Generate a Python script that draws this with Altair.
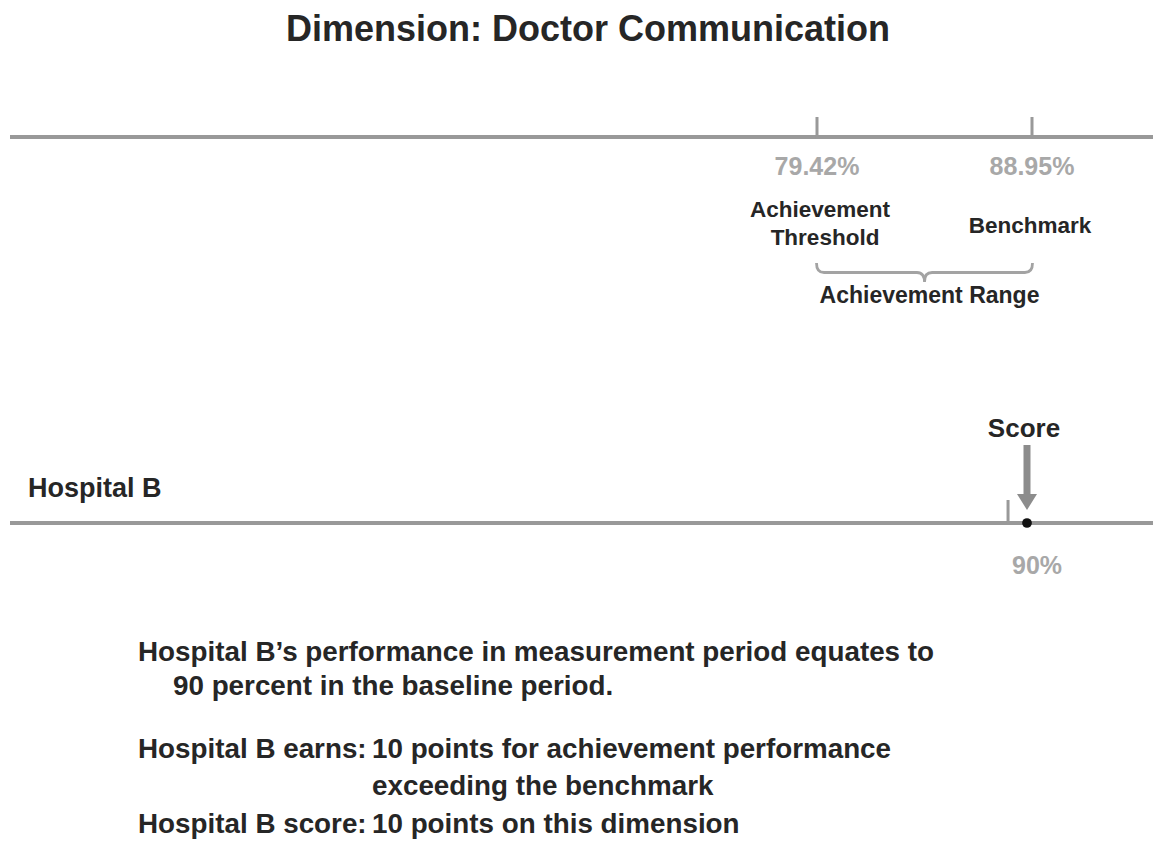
import altair as alt
import pandas as pd

# ---- data ----
top_names = ["Achievement Threshold", "Benchmark"]
top_values = [79.42, 88.95]
score_value = [90.0]
baseline_marker = [89.16]
title_text = "Dimension: Doctor Communication"
hospital = "Hospital B"
block_lines = [
    "Hospital B\u2019s performance in measurement period equates to",
    "90 percent in the baseline period.",
    "Hospital B earns:",
    "10 points for achievement performance",
    "exceeding the benchmark",
    "Hospital B score:",
    "10 points on this dimension",
]

FONT = "Liberation Sans"
DARK = "#262626"
GREY_TXT = "#a8a8a8"
LINE = "#999999"

top_df = pd.DataFrame({
    "name": top_names,
    "value": top_values,
    "label": [f"{v:.2f}%" for v in top_values],
})
mid_df = pd.DataFrame({"value": [sum(top_values) / 2], "label": ["Achievement Range"]})
score_df = pd.DataFrame({"value": score_value, "label": [f"{v:.0f}%" for v in score_value]})
marker_df = pd.DataFrame({"value": baseline_marker})

xs_top = alt.Scale(domain=[43.56, 94.668], range=[0, 1153], nice=False, zero=False)
xs_bot = alt.Scale(domain=[44.832, 95.94], range=[0, 1153], nice=False, zero=False)
X_top = alt.X("value:Q", scale=xs_top, axis=None)
X_bot = alt.X("value:Q", scale=xs_bot, axis=None)

# ---- top (measurement thresholds) ----
top_ticks = alt.Chart(top_df).mark_rule(color=LINE, strokeWidth=3).encode(
    x=X_top, y=alt.value(109), y2=alt.value(131))
top_pct = alt.Chart(top_df).mark_text(
    font=FONT, fontWeight="bold", fontSize=25, color=GREY_TXT, baseline="alphabetic", align="center"
).encode(x=X_top, y=alt.value(167), text="label:N")
thr1 = alt.Chart(top_df[top_df.name == "Achievement Threshold"]).mark_text(
    text="Achievement", font=FONT, fontWeight="bold", fontSize=22.5, color=DARK, baseline="alphabetic", dx=3
).encode(x=X_top, y=alt.value(209))
thr2 = alt.Chart(top_df[top_df.name == "Achievement Threshold"]).mark_text(
    text="Threshold", font=FONT, fontWeight="bold", fontSize=22.5, color=DARK, baseline="alphabetic", dx=8
).encode(x=X_top, y=alt.value(237))
bench = alt.Chart(top_df[top_df.name == "Benchmark"]).mark_text(
    text="Benchmark", font=FONT, fontWeight="bold", fontSize=22.5, color=DARK, baseline="alphabetic", dx=-2
).encode(x=X_top, y=alt.value(225))
brace_path = "M -1 -0.088 Q -1 0 -0.93 0 L -0.07 0 Q 0 0 0 0.088 Q 0 0 0.07 0 L 0.93 0 Q 1 0 1 -0.088"
brace = alt.Chart(mid_df).mark_point(
    shape=brace_path, size=216 * 216, filled=False, stroke="#a3a3a3", strokeWidth=2.8, opacity=1
).encode(x=X_top, y=alt.value(264.5))
range_lbl = alt.Chart(mid_df).mark_text(
    font=FONT, fontWeight="bold", fontSize=23, color=DARK, baseline="alphabetic", dx=5
).encode(x=X_top, y=alt.value(295), text="label:N")
top = alt.layer(top_ticks, top_pct, thr1, thr2, bench, brace, range_lbl)

# ---- bottom (Hospital B) ----
mark_tick = alt.Chart(marker_df).mark_rule(color=LINE, strokeWidth=3).encode(
    x=X_bot, y=alt.value(492), y2=alt.value(515))
shaft = alt.Chart(score_df).mark_rule(color="#8c8c8c", strokeWidth=7).encode(
    x=X_bot, y=alt.value(437), y2=alt.value(488))
head = alt.Chart(score_df).mark_point(
    shape="M -1 -0.6 L 1 -0.6 L 0 1 Z", size=400, filled=True, color="#8c8c8c", opacity=1
).encode(x=X_bot, y=alt.value(492))
score_word = alt.Chart(score_df).mark_text(
    text="Score", font=FONT, fontWeight="bold", fontSize=26, color=DARK, baseline="alphabetic", dx=-3
).encode(x=X_bot, y=alt.value(429))
score_pct = alt.Chart(score_df).mark_text(
    font=FONT, fontWeight="bold", fontSize=25, color=GREY_TXT, baseline="alphabetic", dx=10
).encode(x=X_bot, y=alt.value(566), text="label:N")
dot = alt.Chart(score_df).mark_point(
    shape="circle", size=95, filled=True, color="#111111", opacity=1
).encode(x=X_bot, y=alt.value(515))
bottom = alt.layer(mark_tick, shaft, head, score_word, score_pct, dot)

# ---- annotations / layout ----
one = alt.Data(values=[{}])

def txt(t, x, y, size, align="left", color=DARK):
    return alt.Chart(one).mark_text(
        text=t, font=FONT, fontWeight="bold", fontSize=size, color=color,
        align=align, baseline="alphabetic"
    ).encode(x=alt.value(x), y=alt.value(y))

line_top = alt.Chart(one).mark_rule(color=LINE, strokeWidth=4).encode(
    x=alt.value(2), x2=alt.value(1153), y=alt.value(129))
line_bot = alt.Chart(one).mark_rule(color=LINE, strokeWidth=4).encode(
    x=alt.value(2), x2=alt.value(1153), y=alt.value(515))

annots = alt.layer(
    line_top, line_bot,
    txt(title_text, 580, 33, 36, align="center"),
    txt(hospital, 20, 489, 27),
    txt(block_lines[0], 130, 653, 27.8),
    txt(block_lines[1], 165, 687, 27.8),
    txt(block_lines[2], 130, 750, 27.8),
    txt(block_lines[3], 364, 750, 27.8),
    txt(block_lines[4], 364, 787, 27.8),
    txt(block_lines[5], 130, 825, 27.8),
    txt(block_lines[6], 364, 825, 27.8),
)

chart = alt.layer(annots, top, bottom).resolve_scale(x="independent").properties(
    width=1145, height=834, padding=0, autosize="none", background="white"
).configure_view(stroke=None)

chart.save("out.html", embed_options={"renderer": "svg", "actions": False})
